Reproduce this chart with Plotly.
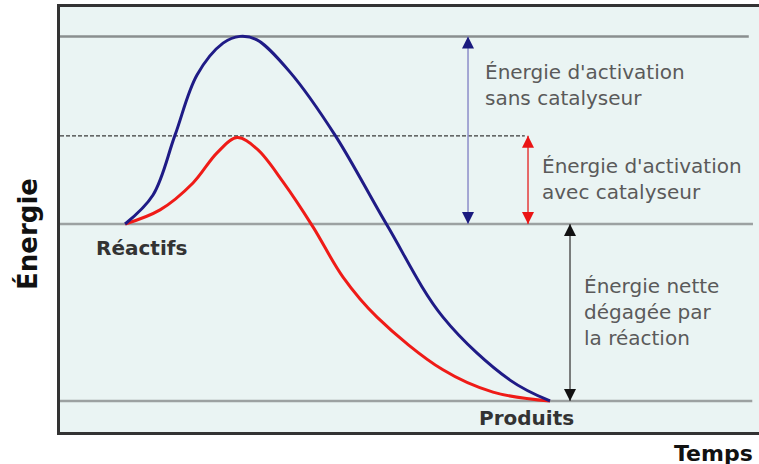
import plotly.graph_objects as go

# ---- data (time in arbitrary units, energy in arbitrary units) ----
time_uncat = [9.3, 13.29, 16.43, 19.57, 23.29, 25.71, 28.14, 32.86, 39.29, 46.71,
              54.71, 64.29, 70.0]
energy_uncat = [50, 58.2, 75.1, 92.1, 101.1, 103.0, 102.0, 92.9, 75.1, 49.7,
                23.7, 5.9, 0]

time_cat = [9.3, 14.29, 19.0, 22.43, 25.29, 28.14, 31.86, 36.14, 40.43, 45.29,
            54.71, 61.86, 70.0]
energy_cat = [50, 54.0, 61.6, 70.1, 74.4, 71.2, 61.9, 49.2, 35.0, 23.7,
              8.8, 2.5, 0]

level_reactants = 50
level_products = 0
level_peak_uncat = 103.0
level_peak_cat = 74.9

arrow_time_uncat = 58.29
arrow_time_cat = 66.86
arrow_time_net = 72.86

label_uncat = "Énergie d'activation<br>sans catalyseur"
label_cat = "Énergie d'activation<br>avec catalyseur"
label_net = "Énergie nette<br>dégagée par<br>la réaction"
label_reactants = "Réactifs"
label_products = "Produits"
label_y = "Énergie"
label_x = "Temps"

FONT = "DejaVu Sans"
BLUE = "#1f1b86"
RED = "#ef1b17"
GREY = "#9ca1a1"

fig = go.Figure()

fig.add_trace(go.Scatter(x=time_cat, y=energy_cat, mode="lines",
                         line=dict(color=RED, width=3, shape="spline", smoothing=1.0,
                                   simplify=False),
                         hoverinfo="skip", showlegend=False))
fig.add_trace(go.Scatter(x=time_uncat, y=energy_uncat, mode="lines",
                         line=dict(color=BLUE, width=3, shape="spline", smoothing=1.0,
                                   simplify=False),
                         hoverinfo="skip", showlegend=False))

shapes = []
# reference levels
for lvl, xend, col in [(level_peak_uncat, 98.4, "#8a8f8f"), (level_reactants, 99.0, GREY),
                       (level_products, 98.9, GREY)]:
    shapes.append(dict(type="line", xref="x", yref="y", x0=0, x1=xend, y0=lvl, y1=lvl,
                       line=dict(color=col, width=2.5), layer="below"))
shapes.append(dict(type="line", xref="x", yref="y", x0=0, x1=66.4,
                   y0=level_peak_cat, y1=level_peak_cat,
                   line=dict(color="#3a3a3a", width=1.2, dash="4px,2px"), layer="below"))

# double / single arrows: shaft as a trace, heads as arrow markers
arrows = [
    (arrow_time_uncat, level_reactants, level_peak_uncat, "#8d8dc9", "#1a1a7e"),
    (arrow_time_cat, level_reactants, level_peak_cat, "#e43a3a", "#ea1414"),
    (arrow_time_net, level_products, level_reactants, "#555555", "#111111"),
]
for t, lo, hi, shaft, head in arrows:
    fig.add_trace(go.Scatter(x=[t, t], y=[lo, hi], mode="lines",
                             line=dict(color=shaft, width=1.5),
                             hoverinfo="skip", showlegend=False))
    fig.add_trace(go.Scatter(x=[t, t], y=[hi, lo], mode="markers",
                             marker=dict(symbol=["arrow-up", "arrow-down"], size=12,
                                         color=head, line=dict(width=0)),
                             hoverinfo="skip", showlegend=False))

txt = dict(family=FONT, size=20, color="#5a5a5a")
annotations = [
    dict(x=60.43, y=89.4, xref="x", yref="y", text=label_uncat, showarrow=False,
         xanchor="left", yanchor="middle", align="left", font=txt),
    dict(x=68.57, y=62.6, xref="x", yref="y", text=label_cat, showarrow=False,
         xanchor="left", yanchor="middle", align="left", font=txt),
    dict(x=74.57, y=25.0, xref="x", yref="y", text=label_net, showarrow=False,
         xanchor="left", yanchor="middle", align="left", font=txt),
    dict(x=11.71, y=43.2, xref="x", yref="y", text="<b>%s</b>" % label_reactants,
         showarrow=False, xanchor="center", yanchor="middle",
         font=dict(family=FONT, size=20, color="#333333")),
    dict(x=66.71, y=-4.8, xref="x", yref="y", text="<b>%s</b>" % label_products,
         showarrow=False, xanchor="center", yanchor="middle",
         font=dict(family=FONT, size=20, color="#333333")),
    dict(x=0, y=47.2, xref="paper", yref="y", text="<b>%s</b>" % label_y,
         showarrow=False, xanchor="center", yanchor="middle", xshift=-32,
         textangle=-90, font=dict(family=FONT, size=26, color="#111111")),
    dict(x=87.43, y=0, xref="x", yref="paper", text="<b>%s</b>" % label_x,
         showarrow=False, xanchor="left", yanchor="middle", yshift=-21,
         font=dict(family=FONT, size=22, color="#111111")),
]

fig.update_layout(
    width=759, height=464,
    margin=dict(l=60, r=0, t=7, b=32),
    paper_bgcolor="white", plot_bgcolor="#eaf4f3",
    shapes=shapes, annotations=annotations,
    xaxis=dict(range=[0, 99.86], showgrid=False, zeroline=False, showticklabels=False,
               ticks="", showline=True, linecolor="#333333", linewidth=3, mirror=True,
               fixedrange=True),
    yaxis=dict(range=[-8.76, 111.3], showgrid=False, zeroline=False, showticklabels=False,
               ticks="", showline=True, linecolor="#333333", linewidth=3, mirror=False,
               fixedrange=True),
    showlegend=False,
)

fig.write_html("out.html", config={"displayModeBar": False},
               post_script="document.body.style.margin='0';document.body.style.overflow='hidden';")
